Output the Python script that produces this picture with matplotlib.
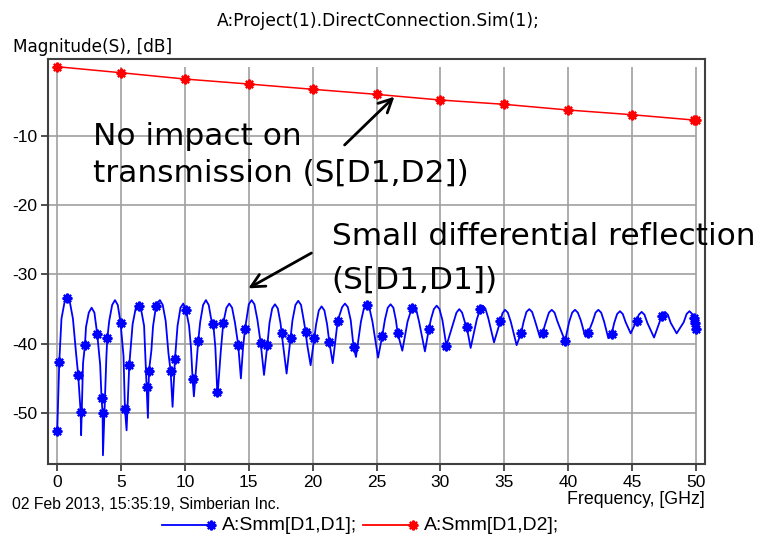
import matplotlib
matplotlib.use("Agg")
import numpy as np
import matplotlib.pyplot as plt
from matplotlib.lines import Line2D

W, H = 767, 539

# S[D1,D2] transmission (red), dB vs GHz
d12_freq = [0, 5, 10, 15, 20, 25, 30, 35, 40, 45, 49.85, 50]
d12_db = [0.0, -0.87, -1.78, -2.50, -3.26, -3.99, -4.81, -5.43, -6.25, -6.93, -7.70, -7.74]

# S[D1,D1] reflection (blue): computed frequency points, drawn with markers
d11_mark_freq = [0.00, 0.16, 0.78, 1.64, 1.83, 2.17, 3.13, 3.47, 3.55, 3.92,
                 4.96, 5.30, 5.64, 6.40, 7.00, 7.18, 7.73, 8.88, 9.22, 10.08,
                 10.60, 11.04, 12.22, 12.53, 13.00, 14.17, 14.70, 15.93, 16.45, 17.57,
                 18.27, 19.45, 20.13, 21.30, 21.96, 23.20, 24.23, 25.45, 26.65, 27.75,
                 29.10, 30.47, 32.06, 33.12, 34.70, 36.33, 38.00, 39.76, 41.58, 43.41,
                 45.37, 47.33, 49.88, 49.94, 50.00]
d11_mark_db = [-52.6, -42.6, -33.4, -44.5, -49.8, -40.2, -38.6, -47.9, -50.0, -39.2,
               -37.0, -49.4, -43.1, -34.5, -46.3, -44.0, -34.6, -44.0, -42.2, -35.1,
               -45.1, -39.6, -37.2, -46.9, -37.0, -40.2, -37.9, -39.9, -40.2, -38.5,
               -39.1, -38.3, -39.2, -39.7, -36.7, -40.4, -34.4, -38.85, -38.45, -34.9,
               -37.85, -40.3, -37.55, -34.95, -36.7, -38.4, -38.45, -39.6, -38.4, -38.6,
               -36.65, -35.95, -36.3, -37.0, -37.8]

# S[D1,D1] interpolated response between computed points: peaks, flanks, nulls
d11_curve_freq = [0.33, 0.56, 0.78, 1.00, 1.23, 1.47, 1.87,
                  2.02, 2.25, 2.47, 2.69, 2.91, 3.36, 3.58,
                  3.85, 4.07, 4.30, 4.52, 4.74, 5.19, 5.43,
                  5.90, 6.13, 6.35, 6.57, 6.80, 7.10,
                  7.37, 7.50, 7.82, 8.04, 8.26, 8.49, 8.71, 9.03,
                  9.42, 9.65, 9.87, 10.32, 10.47, 10.70,
                  11.19, 11.42, 11.64, 11.86, 12.05, 12.38, 12.56,
                  12.80, 13.25, 13.47, 13.69, 13.92, 14.38,
                  14.55, 15.00, 15.22, 15.44, 15.67, 16.19,
                  16.62, 16.83, 17.05, 17.27, 17.48, 17.72, 17.96,
                  18.42, 18.65, 18.87, 19.09, 19.30, 19.56, 19.84,
                  20.27, 20.48, 20.70, 20.92, 21.13, 21.57,
                  22.31, 22.53, 22.75, 22.98, 23.39,
                  23.78, 24.01, 24.45, 24.68, 25.12,
                  25.66, 25.88, 26.10, 26.32, 26.52, 27.02,
                  27.43, 27.88, 28.10, 28.33, 28.79,
                  29.27, 29.49, 29.71, 29.93, 30.16,
                  31.03, 31.26, 31.48, 31.70, 31.92, 32.37,
                  32.85, 33.30, 33.52, 33.75, 34.20,
                  34.86, 35.06, 35.28, 35.51, 35.97,
                  36.52, 36.74, 36.96, 37.18, 37.41, 37.80,
                  38.27, 38.50, 38.72, 38.94, 39.17,
                  40.09, 40.32, 40.54, 40.76, 40.99, 41.32,
                  41.92, 42.15, 42.37, 42.59, 42.82, 43.15,
                  43.61, 43.84, 44.06, 44.28, 44.51, 44.90,
                  45.54, 45.76, 45.98, 46.21, 46.73,
                  47.10, 47.59, 47.81, 48.04, 48.50,
                  49.05, 49.28, 49.50, 49.72]
d11_curve_db = [-36.4, -34.1, -33.4, -34.1, -36.4, -41.3, -53.2,
                -42.8, -37.6, -35.5, -34.8, -35.5, -43.0, -56.1,
                -41.8, -36.7, -34.4, -33.7, -34.4, -41.8, -52.5,
                -37.2, -35.0, -34.4, -35.1, -37.4, -50.7,
                -41.0, -37.5, -34.1, -33.7, -34.4, -36.7, -41.4, -49.1,
                -37.4, -34.8, -34.2, -37.4, -40.5, -47.6,
                -36.9, -34.4, -33.7, -34.4, -36.4, -40.5, -47.3,
                -41.2, -34.8, -34.2, -34.8, -37.0, -45.0,
                -40.5, -34.3, -33.7, -34.3, -36.5, -44.5,
                -37.0, -34.9, -34.3, -34.9, -37.0, -40.7, -44.3,
                -36.6, -34.4, -33.8, -34.4, -36.6, -40.0, -43.1,
                -37.2, -35.2, -34.6, -35.2, -37.2, -42.8,
                -34.7, -34.2, -34.7, -36.6, -41.9,
                -36.8, -34.9, -34.9, -36.8, -42.0,
                -36.5, -34.8, -34.3, -34.8, -36.6, -41.0,
                -36.8, -34.5, -35.0, -36.8, -41.1,
                -36.4, -35.0, -34.5, -35.0, -36.6,
                -36.9, -35.5, -35.0, -35.5, -36.9, -40.6,
                -36.5, -34.5, -34.9, -36.3, -39.8,
                -35.6, -35.1, -35.5, -36.8, -40.2,
                -36.8, -35.4, -35.0, -35.4, -36.7, -39.1,
                -36.8, -35.5, -35.1, -35.5, -36.8,
                -36.8, -35.5, -35.1, -35.5, -36.6, -38.8,
                -36.8, -35.5, -35.1, -35.5, -36.8, -39.2,
                -37.0, -35.7, -35.3, -35.7, -36.9, -38.5,
                -35.8, -35.4, -35.8, -37.0, -39.1,
                -37.2, -35.4, -35.8, -37.0, -38.5,
                -36.9, -35.7, -35.3, -35.7]

x_ticks = [0, 5, 10, 15, 20, 25, 30, 35, 40, 45, 50]
y_ticks = [-10, -20, -30, -40, -50]

UI = "Liberation Sans"
BLUE = "#0000ff"
RED = "#ff0000"
ASTERISK = (8, 2, 0)

fig = plt.figure(figsize=(W / 100, H / 100), dpi=100)


def fxy(x, y):
    # pixel position (from top-left) -> figure fraction
    return x / W, 1 - y / H


left, top, right, bottom = 48.3, 59.3, 705.0, 464.0
ax = fig.add_axes([left / W, 1 - bottom / H, (right - left) / W, (bottom - top) / H])
ax.set_xlim(-0.70, 50.72)
ax.set_ylim(-57.36, 1.07)

# grid only spans the data range
ax.vlines(x_ticks, -57.36, 0, color="#a0a0a0", lw=1.2, zorder=0)
ax.hlines(y_ticks, -0.70, 50, color="#a0a0a0", lw=1.2, zorder=0)

# reflection: curve through computed and interpolated points
f_all = np.array(d11_mark_freq + d11_curve_freq)
db_all = np.array(d11_mark_db + d11_curve_db)
order = np.argsort(f_all, kind="stable")
ax.plot(f_all[order], db_all[order], color=BLUE, lw=1.3, zorder=3)
ax.plot(d11_mark_freq, d11_mark_db, ls="none", marker=ASTERISK, ms=7,
        mew=1.6, color=BLUE, zorder=4)

ax.plot(d12_freq, d12_db, color=RED, lw=1.1, zorder=3)
ax.plot(d12_freq, d12_db, ls="none", marker=ASTERISK, ms=7, mew=1.6,
        color=RED, zorder=4)

for s in ax.spines.values():
    s.set_color("#404040")
    s.set_linewidth(1.5)

ax.set_xticks(x_ticks)
ax.set_xticklabels([str(v) for v in x_ticks])
ax.set_yticks(y_ticks)
ax.set_yticklabels([str(v) for v in y_ticks])
ax.tick_params(direction="out", length=5, width=1.3, color="#404040",
               labelsize=12.5, pad=3)
for lab in ax.get_xticklabels() + ax.get_yticklabels():
    lab.set_family(UI)

# callouts
big = dict(fontsize=22.5, family="DejaVu Sans", va="baseline", color="black")
ax.text(2.82, -11.3, "No impact on", **big)
ax.text(2.82, -16.6, "transmission (S[D1,D2])", **big)
ax.text(21.5, -25.7, "Small differential reflection", **big)
ax.text(21.5, -32.0, "(S[D1,D1])", **big)
arrow = dict(arrowstyle="->", lw=2, color="black", mutation_scale=24,
             shrinkA=0, shrinkB=0)
ax.annotate("", xy=(26.4, -4.33), xytext=(22.5, -11.3), arrowprops=arrow)
ax.annotate("", xy=(14.96, -32.0), xytext=(19.9, -26.9), arrowprops=arrow)

# header / footer texts
fig.text(*fxy(378, 26), "A:Project(1).DirectConnection.Sim(1);", ha="center",
         va="baseline", fontsize=12.3, family="DejaVu Sans")
fig.text(*fxy(13, 51.5), "Magnitude(S), [dB]", ha="left", va="baseline",
         fontsize=12.2, family="DejaVu Sans")
fig.text(*fxy(705, 504), "Frequency, [GHz]", ha="right", va="baseline",
         fontsize=12.8, family=UI)
fig.text(*fxy(12, 509), "02 Feb 2013, 15:35:19, Simberian Inc.", ha="left",
         va="baseline", fontsize=11.3, family=UI)

# legend row
for x0, x1, color, label in [(162, 211, BLUE, "A:Smm[D1,D1];"),
                             (363, 413, RED, "A:Smm[D1,D2];")]:
    (lx0, ly), (lx1, _) = fxy(x0, 525), fxy(x1, 525)
    fig.add_artist(Line2D([lx0, lx1], [ly, ly], color=color, lw=1.3,
                          transform=fig.transFigure))
    fig.add_artist(Line2D([lx1], [ly], ls="none", marker=ASTERISK, ms=7,
                          mew=1.6, color=color, transform=fig.transFigure))
    fig.text(*fxy(x1 + 11, 525), label, ha="left", va="center",
             fontsize=14, family=UI)

fig.savefig("out.png", dpi=100)
